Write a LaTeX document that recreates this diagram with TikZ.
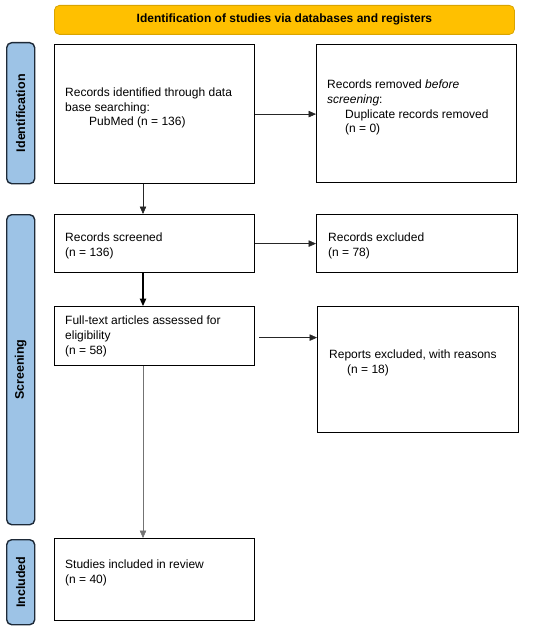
\documentclass[tikz,border=0pt]{standalone}
\usepackage{fontspec}
\setmainfont{Liberation Sans}
\usetikzlibrary{arrows.meta,calc}
\definecolor{bannerfill}{HTML}{FFC000}
\definecolor{bannerline}{HTML}{D9A400}
\definecolor{sidefill}{HTML}{9DC3E6}
\definecolor{sideline}{HTML}{1E2A38}
\begin{document}
\begin{tikzpicture}[x=1pt,y=-1pt,
  box/.style={draw=black, line width=1.2pt, fill=white, rectangle, inner sep=0pt, anchor=north west},
  sidebox/.style={draw=sideline, line width=1.4pt, fill=sidefill, rounded corners=5pt, rectangle, inner sep=0pt, anchor=north west, minimum width=28pt},
  banner/.style={draw=bannerline, line width=0.8pt, fill=bannerfill, rounded corners=5pt, rectangle, inner sep=0pt, anchor=north west},
  txt/.style={anchor=base west, inner sep=0pt, align=left, font=\fontsize{12}{14.8}\selectfont},
  sidetxt/.style={rotate=90, inner sep=0pt, font=\fontsize{12.5}{14}\selectfont\bfseries},
  arr/.style={-{Triangle[length=7.5pt,width=6.5pt]}, line width=0.6pt, draw=black!85},
  arrthick/.style={-{Triangle[length=7.5pt,width=6.5pt]}, line width=1.2pt, draw=black},
  arrthin/.style={-{Triangle[length=7.5pt,width=6.5pt]}, line width=0.5pt, draw=black!55}
]
\useasboundingbox (0,0) rectangle (550,631);

% banner
\node[banner, minimum width=460pt, minimum height=29pt] (ban) at (54,5) {};
\node[inner sep=0pt, font=\fontsize{12}{14}\selectfont\bfseries] (bantxt) at (ban.center) {Identification of studies via databases and registers};

% side labels
\node[sidebox, minimum height=141pt] (sid) at (6,42) {};
\node[sidetxt] (sidt) at (sid.center) {Identification};
\node[sidebox, minimum height=310pt] (sscr) at (6,214) {};
\node[sidetxt] (sscrt) at (sscr.center) {Screening};
\node[sidebox, minimum height=85pt] (sinc) at (6,539) {};
\node[sidetxt] (sinct) at (sinc.center) {Included};

% boxes
\node[box, minimum width=200pt, minimum height=139pt] (b1) at (54,44) {};
\node[box, minimum width=200pt, minimum height=138pt] (b2) at (316,44) {};
\node[box, minimum width=200pt, minimum height=58pt] (b3) at (54,214) {};
\node[box, minimum width=201pt, minimum height=58pt] (b4) at (316,214) {};
\node[box, minimum width=200pt, minimum height=59pt] (b5) at (54,306) {};
\node[box, minimum width=201pt, minimum height=126pt] (b6) at (317,306) {};
\node[box, minimum width=200pt, minimum height=82pt] (b7) at (54,538) {};

% texts (anchored at the baseline of their last line)
\node[txt] (t1) at (65,126) {Records identified through data\\base searching:\\\hspace*{24pt}PubMed (n = 136)};
\node[txt] (t2) at (327,133) {Records removed \textit{before}\\\textit{screening}:\\\hspace*{18pt}Duplicate records removed\\\hspace*{18pt}(n = 0)};
\node[txt] (t3) at (65,256) {Records screened\\(n = 136)};
\node[txt] (t4) at (328,256) {Records excluded\\(n = 78)};
\node[txt] (t5) at (65,354) {Full-text articles assessed for\\eligibility\\(n = 58)};
\node[txt] (t6) at (329,373) {Reports excluded, with reasons\\\hspace*{18pt}(n = 18)};
\node[txt] (t7) at (65,583) {Studies included in review\\(n = 40)};

% connectors
\path (b1.south west) ++(89,0) coordinate (p1);
\path (b3.south west) ++(89,0) coordinate (p3);
\path (b5.south west) ++(89,0) coordinate (p5);
\draw[arr] (b1.east) -- (b1.east -| b2.west);
\draw[arr] (b3.east) -- (b3.east -| b4.west);
\path (b5.east) ++(4,1.5) coordinate (q5);
\draw[arr] (q5) -- (q5 -| b6.west);
\draw[arr] (p1) -- (p1 |- b3.north);
\draw[arrthick] (p3) -- (p3 |- b5.north);
\draw[arrthin] (p5) -- (p5 |- b7.north);
\end{tikzpicture}
\end{document}
